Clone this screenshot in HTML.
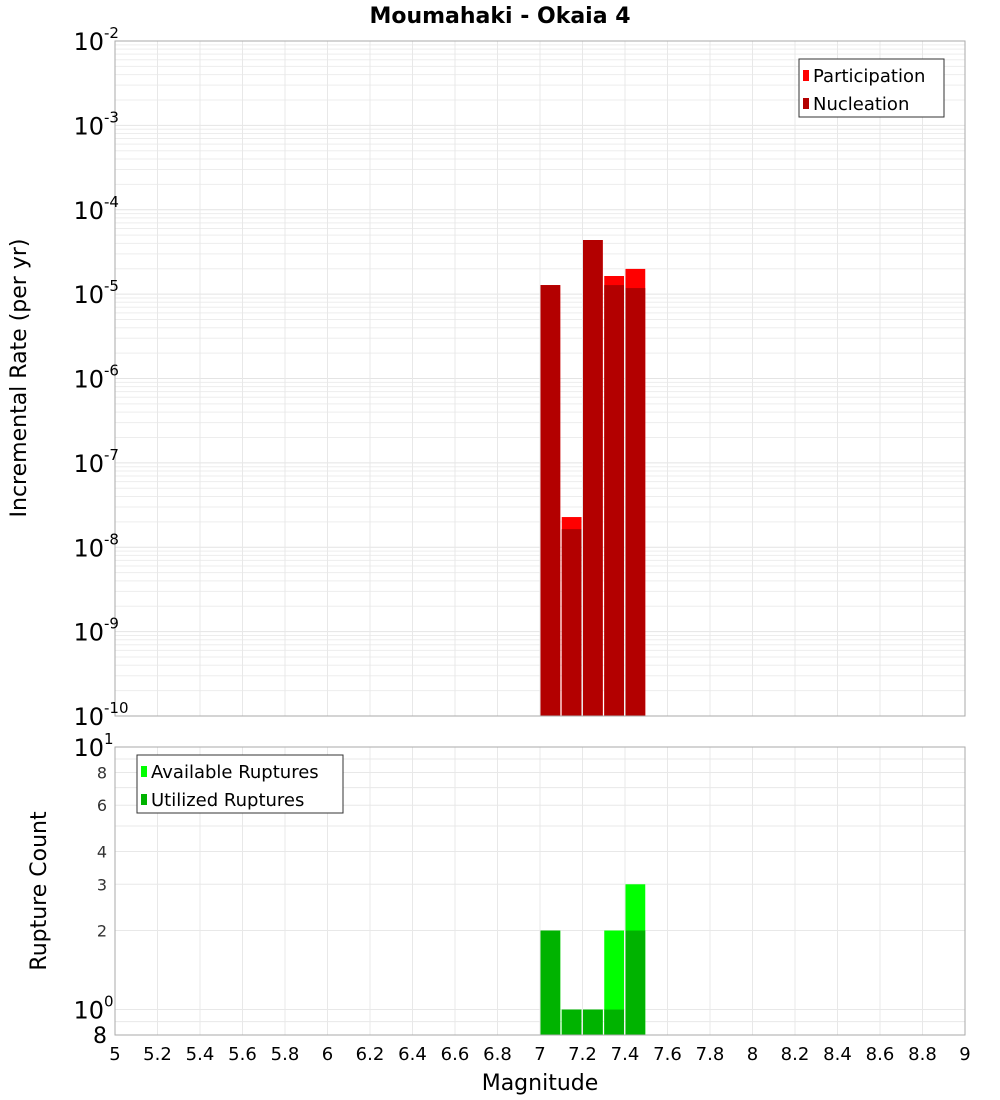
<!DOCTYPE html>
<html><head><meta charset="utf-8"><style>
body{margin:0;background:#fff;}
svg{display:block;font-family:"Liberation Sans","DejaVu Sans",sans-serif;}
</style></head><body>
<svg id="chart" width="1000" height="1100" xmlns="http://www.w3.org/2000/svg">
<text x="500" y="23" text-anchor="middle" font-size="22" font-weight="bold" font-family="DejaVu Sans, sans-serif">Moumahaki - Okaia 4</text>
<g id="topg"></g><g id="botg"></g><g id="xaxg"></g>
<text transform="translate(26,378) rotate(-90)" text-anchor="middle" font-size="22" font-family="DejaVu Sans, sans-serif">Incremental Rate (per yr)</text>
<text transform="translate(46,891) rotate(-90)" text-anchor="middle" font-size="22" font-family="DejaVu Sans, sans-serif">Rupture Count</text>
<text x="540" y="1090" text-anchor="middle" font-size="22" font-family="DejaVu Sans, sans-serif">Magnitude</text>
</svg>
<script>
const binStarts=[7.0,7.1,7.2,7.3,7.4];
const participation=[1.28e-5,2.28e-8,4.38e-5,1.64e-5,1.99e-5];
const nucleation=[1.28e-5,1.64e-8,4.38e-5,1.28e-5,1.18e-5];
const available=[2,1,1,2,3];
const utilized=[2,1,1,1,2];
const xTicks=[5,5.2,5.4,5.6,5.8,6,6.2,6.4,6.6,6.8,7,7.2,7.4,7.6,7.8,8,8.2,8.4,8.6,8.8,9];
const topExps=[-2,-3,-4,-5,-6,-7,-8,-9,-10];
const botTicks=[0.8,1,2,3,4,6,8,10];

const NS="http://www.w3.org/2000/svg";
const X0=115,X1=965,T0=41,T1=716,B0=747,B1=1035;
const xs=m=>X0+(m-5)/4*(X1-X0);
const yt=v=>T0+(-2-Math.log10(v))/8*(T1-T0);
const yb=v=>B0+(1-Math.log10(v))/(1-Math.log10(0.8))*(B1-B0);
function mk(parent,tag,attrs,txt){const e=document.createElementNS(NS,tag);for(const k in attrs)e.setAttribute(k,attrs[k]);if(txt!==undefined)e.textContent=txt;parent.appendChild(e);return e;}
const topG=document.getElementById('topg'),botG=document.getElementById('botg'),xaxG=document.getElementById('xaxg');
const DJ="DejaVu Sans, sans-serif";
for(let e=-10;e<-2;e++){for(let k=1;k<10;k++){const y=yt(k*Math.pow(10,e));const l=mk(topG,'line',{x1:X0,x2:X1,y1:y,y2:y,stroke:k==1?'#e4e4e4':'#ededed','stroke-width':1});

}}
for(const t of xTicks){for(const [g,a,b] of [[topG,T0,T1],[botG,B0,B1]]){const l=mk(g,'line',{x1:xs(t),x2:xs(t),y1:a,y2:b,stroke:'#e8e8e8'});

}}
for(const v of [0.8,0.9,1,2,3,4,5,6,7,8,9,10]){const l=mk(botG,'line',{x1:X0,x2:X1,y1:yb(v),y2:yb(v),stroke:'#e8e8e8'});

}
binStarts.forEach((s,i)=>{const xa=xs(s)+0.5,xb=xs(s+0.1)-1;
let r=mk(topG,'rect',{x:xa,y:yt(participation[i]),width:xb-xa,height:T1-yt(participation[i]),fill:'#ff0000'});


r=mk(topG,'rect',{x:xa,y:yt(nucleation[i]),width:xb-xa,height:T1-yt(nucleation[i]),fill:'#b30000'});


r=mk(botG,'rect',{x:xa,y:yb(available[i]),width:xb-xa,height:B1-yb(available[i]),fill:'#00ff00'});


r=mk(botG,'rect',{x:xa,y:yb(utilized[i]),width:xb-xa,height:B1-yb(utilized[i]),fill:'#00b300'});

});
let f=mk(topG,'rect',{x:X0,y:T0,width:X1-X0,height:T1-T0,fill:'none',stroke:'#aaa'});


f=mk(botG,'rect',{x:X0,y:B0,width:X1-X0,height:B1-B0,fill:'none',stroke:'#aaa'});


for(const e of topExps){const y=yt(Math.pow(10,e));const t=mk(topG,'text',{x:104,y:y+9,'text-anchor':'end','font-size':24,'font-family':DJ},'10');


const s=mk(topG,'text',{x:104,y:y-3,'font-size':15,'font-family':DJ},String(e));

}
for(const v of botTicks){const y=yb(v);let t;
if(v==1||v==10){t=mk(botG,'text',{x:104,y:y+9,'text-anchor':'end','font-size':24,'font-family':DJ},'10');
const s=mk(botG,'text',{x:104,y:y-3,'font-size':15,'font-family':DJ},v==1?'0':'1');

}
else if(v==0.8){t=mk(botG,'text',{x:107,y:y+8,'text-anchor':'end','font-size':22,'font-family':DJ},'8');}
else{t=mk(botG,'text',{x:107,y:y+6,'text-anchor':'end','font-size':16,'font-family':DJ,fill:'#333'},String(v));}

}
for(const v of xTicks){const t=mk(xaxG,'text',{x:xs(v),y:1060,'text-anchor':'middle','font-size':18,'font-family':DJ},String(v));

}
function legend(g,x,y,w,items,nm){const grp=mk(g,'g',{});


mk(grp,'rect',{x:x,y:y,width:w,height:58,fill:'#fff',stroke:'#333'});
items.forEach((it,i)=>{mk(grp,'rect',{x:x+4,y:y+11+i*28,width:6,height:11,fill:it[1]});
const t=mk(grp,'text',{x:x+14,y:y+23+i*28,'font-size':18,'font-family':DJ},it[0]);

});}
legend(topG,799,59,145,[['Participation','#ff0000'],['Nucleation','#b30000']],'legend-top');
legend(botG,137,755,206,[['Available Ruptures','#00ff00'],['Utilized Ruptures','#00b300']],'legend-bottom');
</script>
</body></html>
